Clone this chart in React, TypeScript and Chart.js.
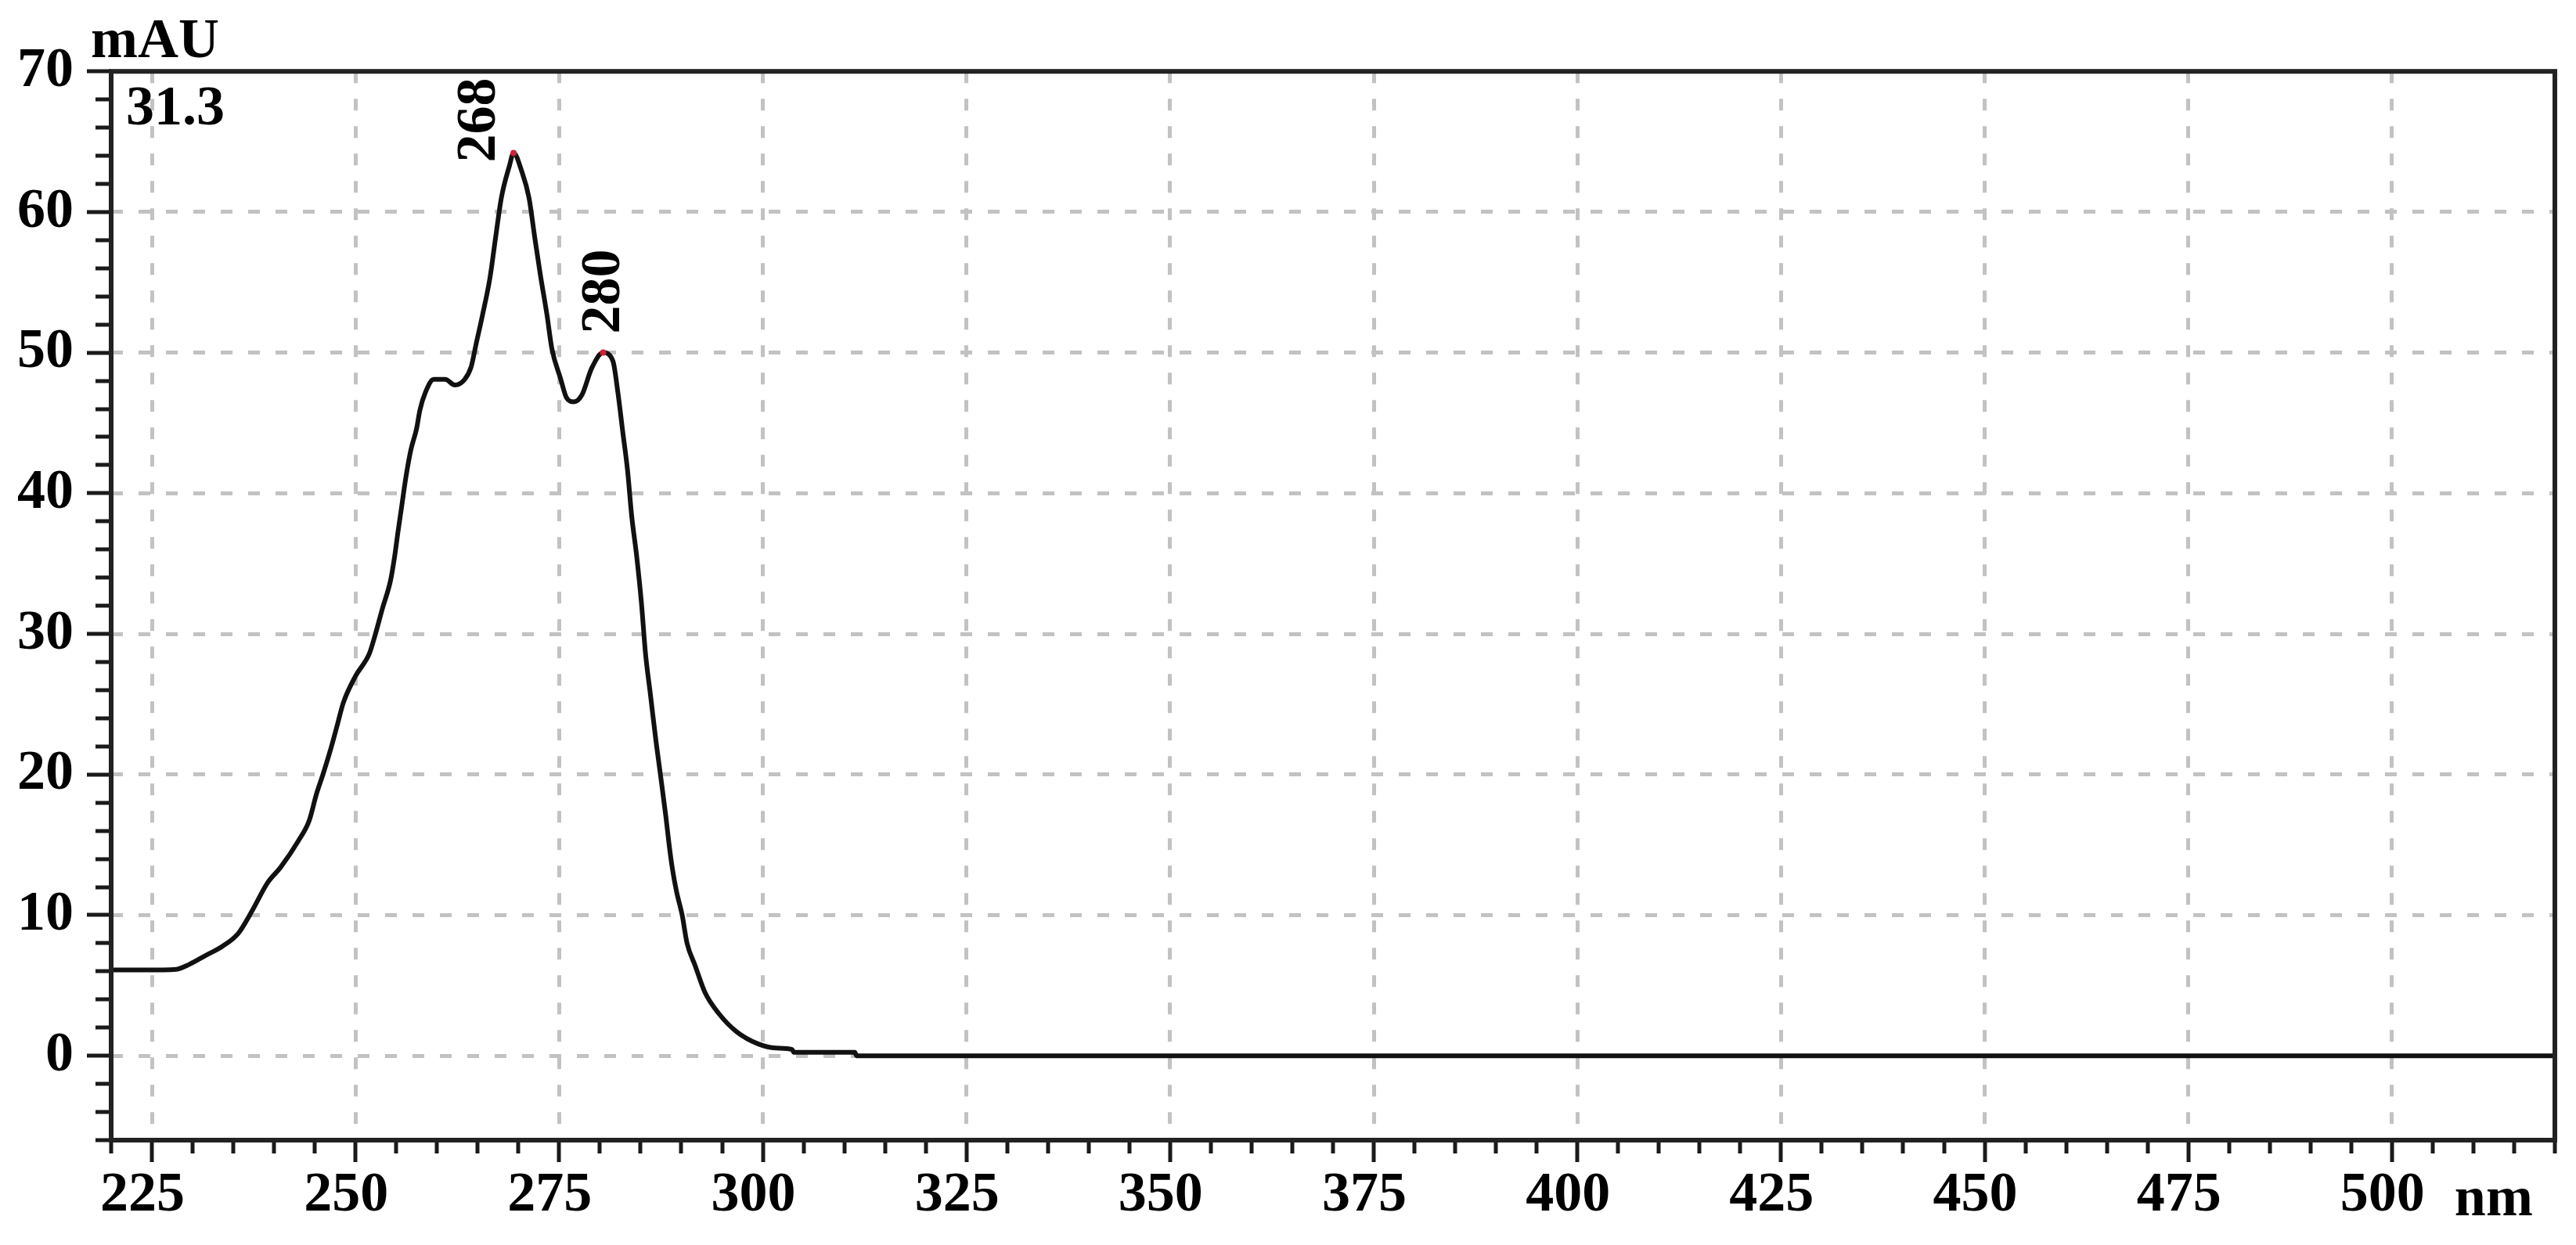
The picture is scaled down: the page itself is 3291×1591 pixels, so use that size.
import { useEffect, useRef } from "react";
import { Chart, registerables } from "chart.js";

Chart.register(...registerables);

// ---- data ----
const wavelengths = [
  220, 224, 228, 229.6, 231.5, 233.7, 235.6, 237.3, 239.2, 240.8, 243.0, 244.3,
  245.2, 246.0, 246.9, 247.8, 248.5, 250.0, 251.7, 252.4, 253.3, 254.3, 254.8,
  255.2, 255.7, 256.2, 256.8, 257.5, 257.9, 258.6, 259.6, 261.0, 262.2, 263.4,
  264.2, 264.8, 265.6, 266.5, 267.2, 267.9, 268.9, 269.4, 270.4, 271.3, 272.0,
  272.7, 273.5, 274.1, 275.2, 275.9, 276.8, 277.8, 279.0, 280.4, 281.6, 282.2,
  282.8, 283.4, 283.9, 284.5, 285.1, 285.6, 286.2, 286.9, 287.5, 288.1, 288.5,
  288.9, 289.4, 290.1, 290.7, 291.7, 292.9, 294.6, 296.8, 299.4, 301.6, 303.6,
  303.8, 311.3, 311.5, 520,
];
const absorbance = [
  6.1, 6.1, 6.15, 6.5, 7.1, 7.8, 8.7, 10.3, 12.3, 13.4, 15.3, 16.7,
  18.6, 20.0, 21.7, 23.6, 25.1, 27.0, 28.6, 29.9, 31.8, 33.8, 35.5,
  37.2, 39.2, 41.2, 43.1, 44.6, 45.9, 47.2, 48.1, 48.1, 47.7, 48.1,
  49.0, 50.6, 52.7, 55.3, 58.2, 61.0, 63.3, 64.2, 62.9, 61.0, 58.2,
  55.5, 52.7, 50.3, 48.1, 46.8, 46.5, 47.0, 48.9, 50.0, 49.4, 47.2,
  44.4, 41.6, 38.4, 35.6, 32.2, 28.6, 25.7, 22.3, 19.7, 17.0, 15.0,
  13.3, 11.7, 10.0, 8.0, 6.4, 4.5, 3.0, 1.7, 0.85, 0.55, 0.45,
  0.25, 0.25, 0, 0,
];
const xTickValues = [225, 250, 275, 300, 325, 350, 375, 400, 425, 450, 475, 500];
const yTickValues = [0, 10, 20, 30, 40, 50, 60, 70];
const peakWavelengths = [269.4, 280.4];
const peakLabels = ["268", "280"];
const yUnit = "mAU";
const xUnit = "nm";
const headerValue = "31.3";

const X_MIN = 220;
const X_MAX = 520;
const Y_MIN = -6;
const Y_MAX = 70;

const FONT = '"Liberation Serif", "Times New Roman", serif';

const decorPlugin = {
  id: "decor",
  afterDraw(chart: any) {
    const { ctx, chartArea: a, scales } = chart;
    const x = scales.x;
    const y = scales.y;
    ctx.save();
    // tick marks
    ctx.strokeStyle = "#1a1a1a";
    ctx.lineWidth = 5;
    ctx.beginPath();
    for (let v = X_MIN; v <= X_MAX; v += 5) {
      const px = Math.round(x.getPixelForValue(v));
      const len = v % 25 === 0 ? 28 : 17;
      ctx.moveTo(px, a.bottom);
      ctx.lineTo(px, a.bottom + len);
    }
    for (let v = Y_MIN; v <= Y_MAX; v += 2) {
      const py = Math.round(y.getPixelForValue(v));
      const len = v % 10 === 0 ? 31 : 20;
      ctx.moveTo(a.left - len, py);
      ctx.lineTo(a.left, py);
    }
    ctx.stroke();
    // frame
    ctx.lineWidth = 6;
    ctx.strokeStyle = "#222";
    ctx.strokeRect(a.left, a.top, a.right - a.left, a.bottom - a.top);

    // texts
    ctx.fillStyle = "#000";
    ctx.font = `bold 72px ${FONT}`;
    ctx.textAlign = "left";
    ctx.textBaseline = "alphabetic";
    ctx.fillText(yUnit, a.left - 26, a.top - 18);
    ctx.fillText(headerValue, a.left + 19, a.top + 68);
    ctx.fillText(xUnit, x.getPixelForValue(500) + 80, a.bottom + 96);

    // peak labels (rotated)
    const offsets = [
      { dx: -24, dy: 12 },
      { dx: 20, dy: -24 },
    ];
    peakWavelengths.forEach((w, i) => {
      const idx = wavelengths.indexOf(w);
      const px = x.getPixelForValue(w);
      const py = y.getPixelForValue(absorbance[idx]);
      ctx.save();
      ctx.translate(px + offsets[i].dx, py + offsets[i].dy);
      ctx.rotate(-Math.PI / 2);
      ctx.fillText(peakLabels[i], 0, 0);
      ctx.restore();
    });
    ctx.restore();
  },
};

export default function App() {
  const ref = useRef<HTMLCanvasElement | null>(null);
  useEffect(() => {
    if (!ref.current) return;
    const data = wavelengths.map((w, i) => ({ x: w, y: absorbance[i] }));
    const chart = new Chart(ref.current, {
      type: "line",
      data: {
        datasets: [
          {
            data,
            borderColor: "#111",
            borderWidth: 6,
            cubicInterpolationMode: "monotone",
            pointRadius: (c: any) =>
              peakWavelengths.includes(wavelengths[c.dataIndex]) ? 4 : 0,
            pointBackgroundColor: "#d0203a",
            pointBorderWidth: 0,
            fill: false,
          },
        ],
      },
      options: {
        animation: false,
        responsive: true,
        maintainAspectRatio: false,
        layout: { padding: { left: 0, top: 88, right: 27, bottom: 0 } },
        plugins: { legend: { display: false }, tooltip: { enabled: false } },
        scales: {
          x: {
            type: "linear",
            min: X_MIN,
            max: X_MAX,
            afterBuildTicks: (s: any) => {
              s.ticks = xTickValues.map((v) => ({ value: v }));
            },
            afterFit: (s: any) => {
              s.height = 134;
            },
            ticks: {
              autoSkip: false,
              maxRotation: 0,
              padding: 28,
              labelOffset: -12,
              color: "#000",
              font: { family: FONT, size: 72, weight: "bold", lineHeight: 1.2 },
              callback: (v: any) => String(v),
            },
            grid: {
              display: true,
              drawTicks: false,
              color: "#c2c2c2",
              lineWidth: 5,
            },
            border: { display: false, dash: [15, 20] },
          },
          y: {
            type: "linear",
            min: Y_MIN,
            max: Y_MAX,
            afterBuildTicks: (s: any) => {
              s.ticks = yTickValues.map((v) => ({ value: v }));
            },
            afterFit: (s: any) => {
              s.width = 142;
            },
            ticks: {
              autoSkip: false,
              padding: 48,
              color: "#000",
              font: { family: FONT, size: 72, weight: "bold", lineHeight: 1.2 },
              callback: (v: any) => String(v),
            },
            grid: {
              display: true,
              drawTicks: false,
              color: "#c2c2c2",
              lineWidth: 5,
            },
            border: { display: false, dash: [15, 20] },
          },
        },
      },
      plugins: [decorPlugin],
    } as any);
    return () => chart.destroy();
  }, []);
  return (
    <div
      style={{
        position: "absolute",
        left: 0,
        top: 0,
        width: 3291,
        height: 1591,
        background: "#fff",
      }}
    >
      <canvas ref={ref} />
    </div>
  );
}
